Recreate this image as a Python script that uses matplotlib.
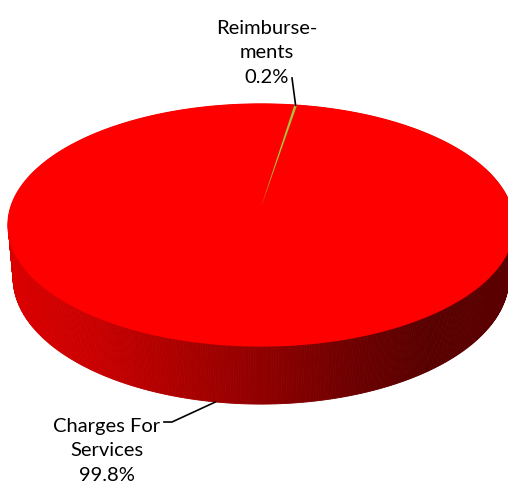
import numpy as np
import matplotlib.pyplot as plt
from matplotlib.patches import Polygon

# Revenue shares by source
categories = ["Charges For\nServices", "Reimburse-\nments"]
shares = [99.8, 0.2]
top_colors = ["#fe0000", "#a8c23c"]

# 3D pie view: camera focal length, disk radius, elevation, thickness (world units)
F, R, ELEV, H = 1479.0, 0.169, np.radians(28.2), 0.041
CX, CY = 261.0, 208.0
START = 80.5  # first slice starts here and runs clockwise


def project(theta, drop=0.0):
    u = R * np.cos(theta)
    v = R * np.sin(theta)
    depth = 1 + v * np.cos(ELEV) + drop * np.sin(ELEV)
    up = v * np.sin(ELEV) - drop * np.cos(ELEV)
    return CX + F * u / depth, CY - F * up / depth


fig = plt.figure(figsize=(5.08, 4.85), dpi=100)
ax = fig.add_axes([0, 0, 1, 1])
ax.set_xlim(0, 508)
ax.set_ylim(485, 0)
ax.axis("off")

# side wall: thin quads, far ones first, shaded darker to the right
side_x = [0, 100, 200, 260, 350, 430, 520]
side_r = [222, 200, 165, 145, 110, 88, 92]
th = np.linspace(0, 2 * np.pi, 721)
quads = []
for a, b in zip(th[:-1], th[1:]):
    x1, y1 = project(a)
    x2, y2 = project(b)
    x3, y3 = project(b, H)
    x4, y4 = project(a, H)
    depth = np.sin((a + b) / 2)
    quads.append((depth, [(x1, y1), (x2, y2), (x3, y3), (x4, y4)]))
quads.sort(key=lambda q: -q[0])
for depth, pts in quads:
    mx = np.mean([p[0] for p in pts])
    c = np.interp(mx, side_x, side_r) / 255
    ax.add_patch(Polygon(pts, closed=True, facecolor=(c, 0, 0),
                         edgecolor=(c, 0, 0), linewidth=0.6))

# top face wedges (outline on the big one hides the wall seams behind it)
angle = START
mids = []
for i, (share, col) in enumerate(zip(shares, top_colors)):
    span = share / sum(shares) * 360
    arc = np.radians(np.linspace(angle, angle - span, max(int(span * 2), 4)))
    xs, ys = project(arc)
    pts = [(CX, CY)] + list(zip(xs, ys))
    if i == 0:
        ax.add_patch(Polygon(pts, closed=True, facecolor=col, edgecolor=col,
                             linewidth=1.2))
    else:
        ax.add_patch(Polygon(pts, closed=True, facecolor=col, edgecolor="none"))
    mids.append(np.radians(angle - span / 2))
    angle -= span

# labels with leader lines
font = dict(family=["Lato", "DejaVu Sans"], fontsize=14.5, ha="center",
            va="center", linespacing=1.55)
charges_txt = f"{categories[0]}\n{shares[0]:.1f}%"
reimb_txt = f"{categories[1]}\n{shares[1]:.1f}%"

ax.text(107, 451, charges_txt, **font)
bx, by = project(mids[0], H)
ax.plot([164, 172, bx], [423, 423, by], color="black", lw=1.2)

ax.text(267, 53, reimb_txt, **font)
tx, ty = project(mids[1])
ax.plot([292, tx], [79, ty], color="black", lw=1.2)

fig.savefig("out.png", dpi=100)
